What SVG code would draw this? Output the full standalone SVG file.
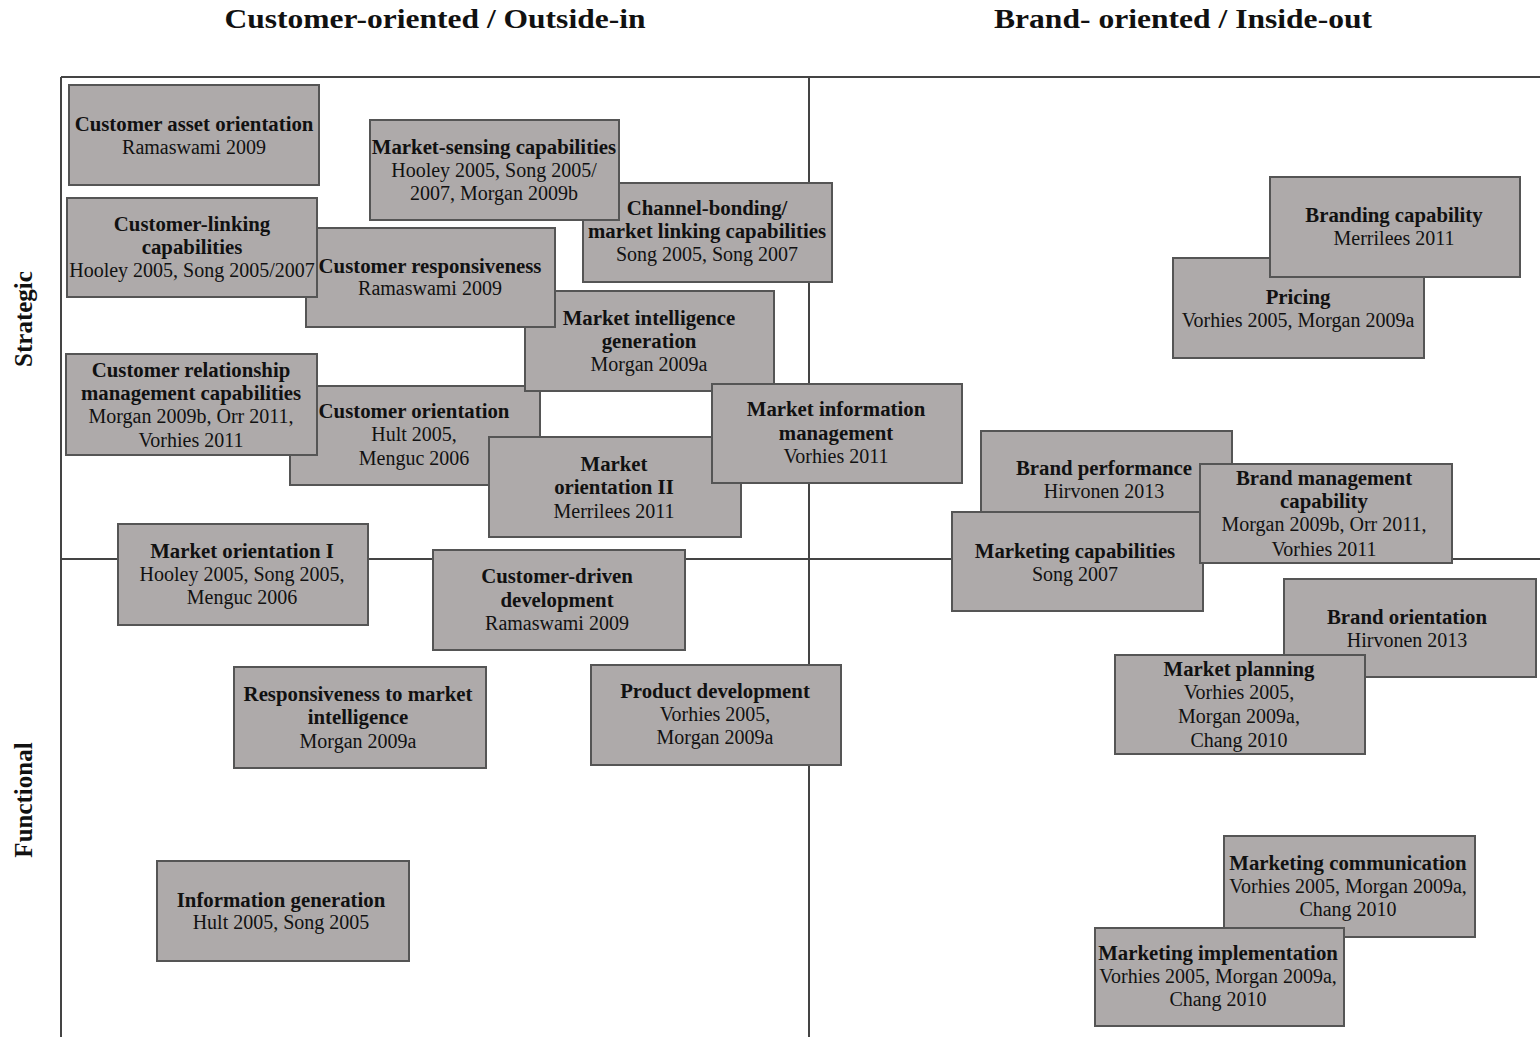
<svg xmlns="http://www.w3.org/2000/svg" width="1540" height="1037" viewBox="0 0 1540 1037">
<style>
.bg{fill:#ffffff}
.ax{stroke:#444444;stroke-width:2;fill:none}
.node rect{fill:#AEAAAA;stroke:#555555;stroke-width:2}
text{font-family:"Liberation Serif","Times New Roman",serif;fill:#111111;text-anchor:middle}
.h{font-size:20.8px;font-weight:bold}
.r{font-size:20px}
.t{font-size:28px;font-weight:bold}
.a{font-size:25px;font-weight:bold}
</style>
<rect class="bg" x="0" y="0" width="1540" height="1037"/>
<g id="titles">
<text class="t" x="435" y="28" textLength="421" lengthAdjust="spacingAndGlyphs">Customer-oriented / Outside-in</text>
<text class="t" x="1183" y="28" textLength="378" lengthAdjust="spacingAndGlyphs">Brand- oriented / Inside-out</text>
<text class="a" transform="translate(32,319) rotate(-90)" x="0" y="0">Strategic</text>
<text class="a" transform="translate(32,800) rotate(-90)" x="0" y="0">Functional</text>
</g>
<g id="connectors">
<path class="ax" d="M61,77 H1540 M61,77 V1037 M809,77 V1037 M61,559 H1540"/>
</g>
<g id="customer-orientation" class="node"><rect x="290" y="386" width="250" height="99"/><text class="h" x="414" y="418">Customer orientation</text><text class="r" x="414" y="441">Hult 2005,</text><text class="r" x="414" y="465">Menguc 2006</text></g>
<g id="crm-capabilities" class="node"><rect x="66" y="354" width="251" height="101"/><text class="h" x="191" y="377">Customer relationship</text><text class="h" x="191" y="400">management capabilities</text><text class="r" x="191" y="423">Morgan 2009b, Orr 2011,</text><text class="r" x="191" y="447">Vorhies 2011</text></g>
<g id="market-intelligence-generation" class="node"><rect x="525" y="291" width="249" height="100"/><text class="h" x="649" y="325">Market intelligence</text><text class="h" x="649" y="348">generation</text><text class="r" x="649" y="371">Morgan 2009a</text></g>
<g id="customer-responsiveness" class="node"><rect x="306" y="228" width="249" height="99"/><text class="h" x="430" y="273">Customer responsiveness</text><text class="r" x="430" y="295">Ramaswami 2009</text></g>
<g id="customer-linking" class="node"><rect x="67" y="198" width="250" height="99"/><text class="h" x="192" y="231">Customer-linking</text><text class="h" x="192" y="254">capabilities</text><text class="r" x="192" y="277">Hooley 2005, Song 2005/2007</text></g>
<g id="customer-asset-orientation" class="node"><rect x="69" y="85" width="250" height="100"/><text class="h" x="194" y="131">Customer asset orientation</text><text class="r" x="194" y="154">Ramaswami 2009</text></g>
<g id="channel-bonding" class="node"><rect x="583" y="183" width="249" height="99"/><text class="h" x="707" y="215">Channel-bonding/</text><text class="h" x="707" y="238">market linking capabilities</text><text class="r" x="707" y="261">Song 2005, Song 2007</text></g>
<g id="market-sensing" class="node"><rect x="370" y="120" width="249" height="100"/><text class="h" x="494" y="154">Market-sensing capabilities</text><text class="r" x="494" y="177">Hooley 2005, Song 2005/</text><text class="r" x="494" y="200">2007, Morgan 2009b</text></g>
<g id="market-orientation-ii" class="node"><rect x="489" y="437" width="252" height="100"/><text class="h" x="614" y="471">Market</text><text class="h" x="614" y="494">orientation II</text><text class="r" x="614" y="518">Merrilees 2011</text></g>
<g id="market-information-management" class="node"><rect x="712" y="384" width="250" height="99"/><text class="h" x="836" y="416">Market information</text><text class="h" x="836" y="440">management</text><text class="r" x="836" y="463">Vorhies 2011</text></g>
<g id="market-orientation-i" class="node"><rect x="118" y="524" width="250" height="101"/><text class="h" x="242" y="558">Market orientation I</text><text class="r" x="242" y="581">Hooley 2005, Song 2005,</text><text class="r" x="242" y="604">Menguc 2006</text></g>
<g id="customer-driven-development" class="node"><rect x="433" y="550" width="252" height="100"/><text class="h" x="557" y="583">Customer-driven</text><text class="h" x="557" y="607">development</text><text class="r" x="557" y="630">Ramaswami 2009</text></g>
<g id="responsiveness-to-mi" class="node"><rect x="234" y="667" width="252" height="101"/><text class="h" x="358" y="701">Responsiveness to market</text><text class="h" x="358" y="724">intelligence</text><text class="r" x="358" y="748">Morgan 2009a</text></g>
<g id="product-development" class="node"><rect x="591" y="665" width="250" height="100"/><text class="h" x="715" y="698">Product development</text><text class="r" x="715" y="721">Vorhies 2005,</text><text class="r" x="715" y="744">Morgan 2009a</text></g>
<g id="information-generation" class="node"><rect x="157" y="861" width="252" height="100"/><text class="h" x="281" y="907">Information generation</text><text class="r" x="281" y="929">Hult 2005, Song 2005</text></g>
<g id="pricing" class="node"><rect x="1173" y="258" width="251" height="100"/><text class="h" x="1298" y="304">Pricing</text><text class="r" x="1298" y="327">Vorhies 2005, Morgan 2009a</text></g>
<g id="branding-capability" class="node"><rect x="1270" y="177" width="250" height="100"/><text class="h" x="1394" y="222">Branding capability</text><text class="r" x="1394" y="245">Merrilees 2011</text></g>
<g id="brand-performance" class="node"><rect x="981" y="431" width="251" height="99"/><text class="h" x="1104" y="475">Brand performance</text><text class="r" x="1104" y="498">Hirvonen 2013</text></g>
<g id="marketing-capabilities" class="node"><rect x="952" y="512" width="251" height="99"/><text class="h" x="1075" y="558">Marketing capabilities</text><text class="r" x="1075" y="581">Song 2007</text></g>
<g id="brand-management-capability" class="node"><rect x="1200" y="464" width="252" height="99"/><text class="h" x="1324" y="485">Brand management</text><text class="h" x="1324" y="508">capability</text><text class="r" x="1324" y="531">Morgan 2009b, Orr 2011,</text><text class="r" x="1324" y="556">Vorhies 2011</text></g>
<g id="brand-orientation" class="node"><rect x="1284" y="579" width="252" height="98"/><text class="h" x="1407" y="624">Brand orientation</text><text class="r" x="1407" y="647">Hirvonen 2013</text></g>
<g id="market-planning" class="node"><rect x="1115" y="655" width="250" height="99"/><text class="h" x="1239" y="676">Market planning</text><text class="r" x="1239" y="699">Vorhies 2005,</text><text class="r" x="1239" y="723">Morgan 2009a,</text><text class="r" x="1239" y="747">Chang 2010</text></g>
<g id="marketing-communication" class="node"><rect x="1224" y="836" width="251" height="101"/><text class="h" x="1348" y="870">Marketing communication</text><text class="r" x="1348" y="893">Vorhies 2005, Morgan 2009a,</text><text class="r" x="1348" y="916">Chang 2010</text></g>
<g id="marketing-implementation" class="node"><rect x="1095" y="928" width="249" height="98"/><text class="h" x="1218" y="960">Marketing implementation</text><text class="r" x="1218" y="983">Vorhies 2005, Morgan 2009a,</text><text class="r" x="1218" y="1006">Chang 2010</text></g>
</svg>
